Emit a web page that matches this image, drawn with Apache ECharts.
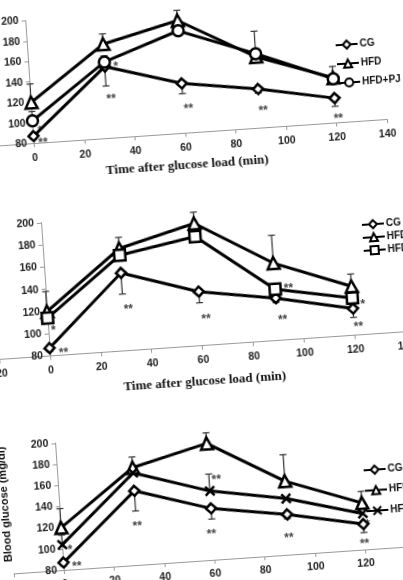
<!DOCTYPE html>
<html>
<head>
<meta charset="utf-8">
<script src="https://cdn.jsdelivr.net/npm/echarts@6/dist/echarts.min.js"></script>
<style>
  html, body { margin: 0; padding: 0; width: 403px; height: 580px; overflow: hidden; background: #fff; }
  /* the scanned figure is tilted a few degrees, so the whole canvas is turned */
  #chart { position: absolute; left: -40px; top: -30px; width: 483px; height: 640px;
           transform-origin: 241.5px 320px; transform: rotate(-3.9deg); }
</style>
</head>
<body>
<div id="chart"></div>
<script>
// sampling times after glucose load (min)
var times = [0, 30, 60, 90, 120];

// blood glucose (mg/dl)
var cg = [87, 150, 128.5, 118, 104];
var hfd = [120, 172, 190, 149.5, 124];
var hfdPJ = [102, 154.5, 180, 152.5, 123];   // panel 1, circles
var hfdSq = [114, 166, 178, 126, 113.5];     // panel 2, squares
var hfdX = [104, 167, 145, 133, 114];        // panel 3, crosses

// where each error bar ends (null = no bar)
var cgErr = [84, 131, 118.5, 114, 96];
var hfdErr = [138, 182, 200, 174.5, 135];
var hfdPJErr = [111, 160.5, null, null, null];
var hfdSqErr = [null, null, null, null, null];
var hfdXErr = [113, null, 161, null, null];

// significance marks [time, glucose, text]
var stars1 = [[3.6, 82.6, '**'], [2.8, 94.6, '*'], [34.4, 151.4, '*'], [31.7, 120.8, '**'],
              [62, 106.3, '**'], [91.5, 99.4, '**'], [121, 86.6, '**']];
var stars2 = [[2, 104.7, '*'], [5.4, 84.7, '**'], [32, 119.4, '**'], [62.2, 106.1, '**'],
              [95.3, 128.2, '**'], [92.2, 100.1, '**'], [124, 109.4, '*'], [121.7, 89.3, '**']];
var stars3 = [[3, 101, '*'], [5.2, 84.8, '**'], [30.3, 119.3, '**'], [62.9, 157.6, '**'],
              [59.5, 106.7, '**'], [90.1, 98.6, '**'], [121.7, 106, '*'], [120, 88.3, '**']];

var names1 = ['CG', 'HFD', 'HFD+PJ'];
var names2 = ['CG', 'HFD', 'HFD+PE'];
var names3 = ['CG', 'HFD', 'HFD+PS'];

var xMin = -20, xMax = 140, yMin = 80, yMax = 200, step = 20;

var crossSymbol = 'path://M0,0L10,10M10,0L0,10';
var font = 'Liberation Sans, Arial, sans-serif';

function pairs(vals) {
  return times.map(function (t, i) { return [t, vals[i]]; });
}

function errData(vals, ends) {
  var out = [];
  times.forEach(function (t, i) {
    if (ends[i] != null) out.push([t, vals[i], ends[i]]);
  });
  return out;
}

function renderErr(params, api) {
  var a = api.coord([api.value(0), api.value(1)]);
  var b = api.coord([api.value(0), api.value(2)]);
  var st = { stroke: '#333', lineWidth: 1.2 };
  return {
    type: 'group',
    children: [
      { type: 'line', shape: { x1: a[0], y1: a[1], x2: b[0], y2: b[1] }, style: st },
      { type: 'line', shape: { x1: b[0] - 3.5, y1: b[1], x2: b[0] + 3.5, y2: b[1] }, style: st }
    ]
  };
}

function lineSeries(idx, name, vals, symbol, size) {
  return {
    type: 'line', name: name, xAxisIndex: idx, yAxisIndex: idx, z: 3,
    data: pairs(vals), symbol: symbol, symbolSize: size,
    lineStyle: { color: '#000', width: 3 },
    itemStyle: { color: '#fff', borderColor: '#000', borderWidth: 2.5 },
    emphasis: { disabled: true }
  };
}

function errSeries(idx, vals, ends) {
  return {
    type: 'custom', xAxisIndex: idx, yAxisIndex: idx, z: 1,
    renderItem: renderErr, data: errData(vals, ends), silent: true
  };
}

function starSeries(idx, stars) {
  return {
    type: 'scatter', xAxisIndex: idx, yAxisIndex: idx, z: 4, silent: true,
    data: stars, symbolSize: 1, itemStyle: { color: 'transparent' },
    label: {
      show: true, position: 'inside', offset: [0, 3],
      formatter: function (p) { return p.value[2]; },
      fontSize: 12, fontWeight: 'bold', color: '#111', fontFamily: font
    }
  };
}

function xAxis(idx, gap) {
  return {
    gridIndex: idx, type: 'value', min: xMin, max: xMax, interval: step,
    name: 'Time after glucose load (min)',
    nameLocation: 'middle', nameGap: gap,
    nameTextStyle: { fontFamily: 'Liberation Serif, Times New Roman, serif', fontWeight: 'bold', fontSize: 13, color: '#111' },
    axisLine: { lineStyle: { color: '#999', width: 1 } },
    axisTick: { length: 4, lineStyle: { color: '#999' } },
    axisLabel: { margin: 9, fontSize: 10.5, fontWeight: 'bold', color: '#222', fontFamily: font },
    splitLine: { show: false }
  };
}

// the vertical axis crosses the time axis at 0, i.e. 20 min right of the grid edge
function yAxis(idx, shift) {
  return {
    gridIndex: idx, type: 'value', min: yMin, max: yMax, interval: step,
    position: 'left', offset: -shift,
    name: 'Blood glucose (mg/dl)', nameLocation: 'middle', nameRotate: 90, nameGap: 49,
    nameTextStyle: { fontFamily: font, fontWeight: 'bold', fontSize: 11, color: '#111', padding: [0, 0, 0, 12] },
    axisLine: { onZero: false, lineStyle: { color: '#999', width: 1 } },
    axisTick: { show: true, length: 4, lineStyle: { color: '#999' } },
    axisLabel: { show: true, margin: 7, fontSize: 10.5, fontWeight: 'bold', color: '#222', fontFamily: font },
    splitLine: { show: false }
  };
}

function legend(names, left, top, gap) {
  return {
    data: names, orient: 'vertical', left: left, top: top, itemGap: gap,
    itemWidth: 22, itemHeight: 10, selectedMode: false,
    textStyle: { fontFamily: font, fontWeight: 'bold', fontSize: 10, color: '#111', padding: [0, 0, 0, -3] }
  };
}

var myChart = echarts.init(document.getElementById('chart'), null, { renderer: 'canvas' });

var option = {
  backgroundColor: '#fff',
  animation: false,
  grid: [
    { left: 33.9, width: 403.9, top: 39.3, height: 122.9, outerBoundsMode: 'none', containLabel: false },
    { left: 35, width: 407.3, top: 241.8, height: 133.7, outerBoundsMode: 'none', containLabel: false },
    { left: 35, width: 402.4, top: 462.8, height: 127.2, outerBoundsMode: 'none', containLabel: false }
  ],
  xAxis: [xAxis(0, 26), xAxis(1, 30), xAxis(2, 30)],
  yAxis: [yAxis(0, 50.5), yAxis(1, 50.9), yAxis(2, 50.3)],
  legend: [
    legend(names1, 386, 75, 9),
    legend(names2, 400, 256, 3),
    legend(names3, 385, 501, 10.5)
  ],
  series: [
    errSeries(0, cg, cgErr), errSeries(0, hfd, hfdErr), errSeries(0, hfdPJ, hfdPJErr),
    lineSeries(0, names1[0], cg, 'diamond', 10),
    lineSeries(0, names1[1], hfd, 'triangle', 12),
    lineSeries(0, names1[2], hfdPJ, 'circle', 11),
    starSeries(0, stars1),

    errSeries(1, cg, cgErr), errSeries(1, hfd, hfdErr), errSeries(1, hfdSq, hfdSqErr),
    lineSeries(1, names2[0], cg, 'diamond', 10),
    lineSeries(1, names2[1], hfd, 'triangle', 12),
    lineSeries(1, names2[2], hfdSq, 'rect', 11),
    starSeries(1, stars2),

    errSeries(2, cg, cgErr), errSeries(2, hfd, hfdErr), errSeries(2, hfdX, hfdXErr),
    lineSeries(2, names3[0], cg, 'diamond', 10),
    lineSeries(2, names3[1], hfd, 'triangle', 12),
    lineSeries(2, names3[2], hfdX, crossSymbol, 9),
    starSeries(2, stars3)
  ]
};

myChart.setOption(option);
</script>
</body>
</html>
